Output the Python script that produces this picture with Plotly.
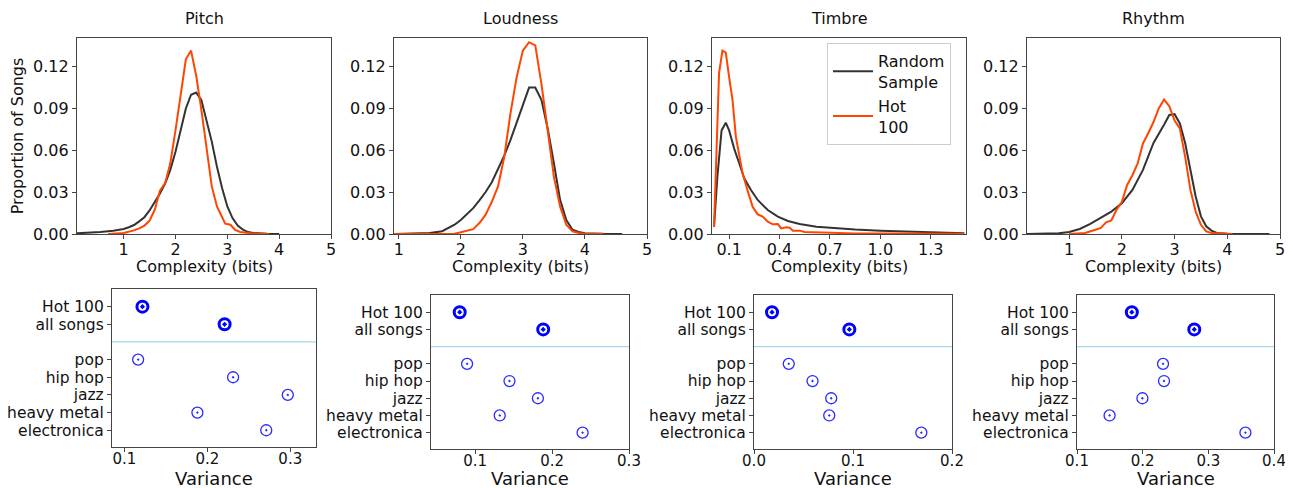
import plotly.graph_objects as go

# ---------------- data ----------------
TITLES = ["Pitch", "Loudness", "Timbre", "Rhythm"]
TOP_XLABEL = "Complexity (bits)"
BOT_XLABEL = "Variance"

PITCH_X_RAND = [0.1, 0.3, 0.55, 0.8, 1.0, 1.1, 1.2, 1.3, 1.4, 1.5, 1.6, 1.7, 1.8, 1.9, 2.0, 2.1, 2.2, 2.3, 2.4,
                2.5, 2.6, 2.7, 2.8, 2.9, 3.0, 3.1, 3.2, 3.3, 3.4, 3.5, 3.77, 4.0]
PITCH_RAND = [0.0005, 0.0008, 0.0014, 0.0024, 0.0036, 0.0048, 0.0064, 0.009, 0.012, 0.0168, 0.0225, 0.029,
              0.036, 0.0458, 0.0588, 0.0754, 0.0897, 0.0995, 0.101, 0.0956, 0.0813, 0.066, 0.048, 0.0327,
              0.0197, 0.0114, 0.006, 0.0031, 0.0014, 0.0007, 0.0002, 0.0]
PITCH_X_HOT = [0.7, 1.0, 1.2, 1.3, 1.4, 1.5, 1.6, 1.7, 1.8, 1.9, 2.0, 2.1, 2.2, 2.3, 2.4, 2.5, 2.6, 2.7, 2.8,
               2.9, 2.96, 3.06, 3.15, 3.25, 3.45, 3.8]
PITCH_HOT = [0.0, 0.0007, 0.0026, 0.004, 0.006, 0.0095, 0.0173, 0.031, 0.0363, 0.0505, 0.074, 0.099, 0.1248,
             0.131, 0.113, 0.0885, 0.0624, 0.034, 0.0197, 0.0126, 0.0074, 0.0066, 0.003, 0.0014, 0.0005, 0.0]

LOUD_X_RAND = [0.93, 1.2, 1.5, 1.7, 1.9, 2.0, 2.1, 2.2, 2.3, 2.4, 2.5, 2.6, 2.7, 2.8, 2.9, 3.0, 3.1, 3.2, 3.3,
               3.4, 3.5, 3.6, 3.7, 3.8, 3.9, 4.0, 4.3, 4.6]
LOUD_RAND = [0.0, 0.0002, 0.0007, 0.002, 0.0066, 0.010, 0.014, 0.0185, 0.024, 0.030, 0.037, 0.046, 0.056,
             0.067, 0.079, 0.092, 0.1046, 0.1046, 0.0956, 0.0754, 0.0505, 0.0244, 0.010, 0.003, 0.0014,
             0.0005, 0.0001, 0.0]
LOUD_X_HOT = [0.93, 1.5, 1.9, 2.0, 2.1, 2.2, 2.3, 2.4, 2.5, 2.6, 2.7, 2.8, 2.9, 3.0, 3.1, 3.2, 3.3, 3.4, 3.5,
              3.6, 3.7, 3.8, 3.9, 4.0, 4.3]
LOUD_HOT = [0.0, 0.0, 0.0002, 0.0012, 0.0026, 0.0035, 0.0078, 0.0138, 0.023, 0.034, 0.055, 0.086, 0.112,
            0.131, 0.137, 0.1347, 0.107, 0.073, 0.041, 0.0197, 0.0066, 0.0019, 0.0007, 0.0002, 0.0]

TIMB_X_RAND = [0.01, 0.03, 0.055, 0.08, 0.1, 0.13, 0.16, 0.19, 0.23, 0.27, 0.33, 0.39, 0.45, 0.52, 0.62,
               0.72, 0.85, 1.0, 1.15, 1.3, 1.5]
TIMB_RAND = [0.005, 0.041, 0.074, 0.0795, 0.074, 0.061, 0.0505, 0.0398, 0.0314, 0.0243, 0.0171, 0.0124,
             0.0093, 0.0071, 0.0052, 0.0041, 0.0032, 0.0024, 0.0018, 0.0012, 0.0006]
TIMB_X_HOT = [0.01, 0.04, 0.06, 0.08, 0.1, 0.12, 0.14, 0.16, 0.18, 0.21, 0.24, 0.27, 0.30, 0.33, 0.36, 0.39,
              0.41, 0.44, 0.46, 0.48, 0.52, 0.55, 0.58, 0.62, 0.68, 0.72, 0.78, 0.85, 1.0, 1.2, 1.5]
TIMB_HOT = [0.005, 0.115, 0.131, 0.1295, 0.112, 0.096, 0.0695, 0.0576, 0.0433, 0.031, 0.0195, 0.014, 0.0124,
            0.0088, 0.0069, 0.0071, 0.004, 0.0048, 0.0045, 0.0024, 0.0024, 0.0015, 0.0014, 0.0012, 0.0008,
            0.001, 0.0006, 0.0004, 0.0003, 0.0002, 0.0001]

RHY_X_RAND = [0.2, 0.5, 0.8, 1.0, 1.2, 1.4, 1.6, 1.8, 2.0, 2.2, 2.4, 2.6, 2.8, 2.9, 3.0, 3.1, 3.2, 3.3, 3.4,
              3.5, 3.6, 3.7, 3.8, 4.0, 4.4, 4.8]
RHY_RAND = [0.0, 0.0002, 0.0005, 0.0014, 0.0036, 0.0073, 0.0114, 0.016, 0.022, 0.0315, 0.0458, 0.065, 0.078,
            0.085, 0.0856, 0.079, 0.065, 0.0458, 0.0268, 0.0126, 0.0055, 0.0024, 0.0007, 0.0002, 0.0, 0.0]
RHY_X_HOT = [1.0, 1.3, 1.5, 1.6, 1.7, 1.8, 1.9, 2.0, 2.1, 2.2, 2.3, 2.4, 2.5, 2.6, 2.7, 2.8, 2.9, 3.0, 3.1,
             3.2, 3.3, 3.4, 3.5, 3.6, 3.7, 4.1]
RHY_HOT = [0.0, 0.0007, 0.003, 0.0043, 0.0083, 0.0097, 0.0173, 0.023, 0.035, 0.042, 0.0505, 0.0647, 0.072,
           0.080, 0.0897, 0.096, 0.0913, 0.081, 0.0754, 0.0553, 0.0315, 0.016, 0.0066, 0.0019, 0.0007, 0.0]

CATEGORIES = ["Hot 100", "all songs", "pop", "hip hop", "jazz", "heavy metal", "electronica"]
CAT_POS = [0, 1, 3, 4, 5, 6, 7]
VAR_PITCH = [0.1217, 0.2208, 0.1165, 0.231, 0.297, 0.188, 0.271]
VAR_LOUD = [0.080, 0.1885, 0.0896, 0.1447, 0.1816, 0.132, 0.2397]
VAR_TIMB = [0.0182, 0.0963, 0.0351, 0.0591, 0.078, 0.076, 0.169]
VAR_RHY = [0.1835, 0.2786, 0.231, 0.2325, 0.1996, 0.1496, 0.3565]

Y_TICKS = [0.0, 0.03, 0.06, 0.09, 0.12]

# ---------------- layout helpers ----------------
PAGE_W, PAGE_H = 1293, 488
OFF = 8  # default page body margin
W, H = PAGE_W - OFF, PAGE_H - OFF
FONT = "DejaVu Sans"
BLACK = "#333333"
ORANGE = "#ff4500"
FRAME = "#444444"
TXT = "#111111"


def xd(a, b):
    return [(a - OFF) / W, (b - OFF) / W]


def yd(top, bottom):
    return [1 - (bottom - OFF) / H, 1 - (top - OFF) / H]


def px(a):
    return (a - OFF) / W


def py(b):
    return 1 - (b - OFF) / H


top_x = [(77, 331), (394, 647), (712, 966), (1027, 1280)]
top_y = (38, 234)
bot_x = [(112, 316), (431, 629), (754, 952), (1077, 1274)]
bot_y = [(289, 447), (295, 449), (295, 449), (295, 449)]

top_xranges = [[0.1, 5.0], [0.924, 5.0], [-0.002, 1.51], [0.2, 5.0]]
top_xticks = [[1, 2, 3, 4, 5], [1, 2, 3, 4, 5], [0.1, 0.4, 0.7, 1.0, 1.3], [1, 2, 3, 4, 5]]
top_xtext = [["1", "2", "3", "4", "5"]] * 2 + [["0.1", "0.4", "0.7", "1.0", "1.3"]] + [["1", "2", "3", "4", "5"]]
bot_xranges = [[0.085, 0.331], [0.0427, 0.3], [0.0, 0.2], [0.1, 0.4]]
bot_xticks = [[0.1, 0.2, 0.3], [0.1, 0.2, 0.3], [0.0, 0.1, 0.2], [0.1, 0.2, 0.3, 0.4]]

curves = [
    (PITCH_X_RAND, PITCH_RAND, PITCH_X_HOT, PITCH_HOT),
    (LOUD_X_RAND, LOUD_RAND, LOUD_X_HOT, LOUD_HOT),
    (TIMB_X_RAND, TIMB_RAND, TIMB_X_HOT, TIMB_HOT),
    (RHY_X_RAND, RHY_RAND, RHY_X_HOT, RHY_HOT),
]
variances = [VAR_PITCH, VAR_LOUD, VAR_TIMB, VAR_RHY]

fig = go.Figure()
layout = {}
shapes = []
annotations = []

tick_font = dict(family=FONT, size=16, color=TXT)


def ann(text, x, y, size):
    return dict(text=text, xref="paper", yref="paper", x=x, y=y,
                xanchor="center", yanchor="middle", showarrow=False,
                font=dict(family=FONT, size=size, color=TXT))


for i in range(4):
    n = i + 1
    xa = "x" if n == 1 else f"x{n}"
    ya = "y" if n == 1 else f"y{n}"
    xr, yr, xh, yh = curves[i]
    fig.add_trace(go.Scatter(x=xr, y=yr, mode="lines", line=dict(color=BLACK, width=2),
                             name="Random<br>Sample", legendgroup="rand", showlegend=(i == 0),
                             xaxis=xa, yaxis=ya))
    fig.add_trace(go.Scatter(x=xh, y=yh, mode="lines", line=dict(color=ORANGE, width=2),
                             name="Hot<br>100", legendgroup="hot", showlegend=(i == 0),
                             xaxis=xa, yaxis=ya))
    layout["xaxis" if n == 1 else f"xaxis{n}"] = dict(
        domain=xd(*top_x[i]), anchor=ya, range=top_xranges[i], automargin=False,
        tickvals=top_xticks[i], ticktext=top_xtext[i], ticklabelstandoff=-3,
        showline=True, mirror=True, linecolor=FRAME, linewidth=1.3,
        ticks="outside", ticklen=4, tickcolor=FRAME, showgrid=False, zeroline=False,
        tickfont=tick_font,
    )
    layout["yaxis" if n == 1 else f"yaxis{n}"] = dict(
        domain=yd(*top_y), anchor=xa, range=[0, 0.14], automargin=False,
        tickvals=Y_TICKS, ticktext=[f"{v:.2f}" for v in Y_TICKS],
        showline=True, mirror=True, linecolor=FRAME, linewidth=1.3,
        ticks="outside", ticklen=4, tickcolor=FRAME, showgrid=False, zeroline=False,
        tickfont=tick_font,
        title=dict(text="Proportion of Songs" if i == 0 else "",
                   font=dict(family=FONT, size=16, color=TXT), standoff=6),
    )
    cx = px((top_x[i][0] + top_x[i][1]) / 2)
    annotations.append(ann(TITLES[i], cx, py(18), 16))
    annotations.append(ann(TOP_XLABEL, cx, py(266), 16))

    # bottom row
    m = i + 5
    xb = f"x{m}"
    yb = f"y{m}"
    v = variances[i]
    fig.add_trace(go.Scatter(x=v[:2], y=CAT_POS[:2], mode="markers", showlegend=False,
                             marker=dict(symbol="circle-open-dot", size=11, color="#0000ff",
                                         line=dict(width=3, color="#0000ff")),
                             xaxis=xb, yaxis=yb))
    fig.add_trace(go.Scatter(x=v[2:], y=CAT_POS[2:], mode="markers", showlegend=False,
                             marker=dict(symbol="circle-open-dot", size=11, color="#2a2aff",
                                         line=dict(width=1.3, color="#2a2aff")),
                             xaxis=xb, yaxis=yb))
    layout[f"xaxis{m}"] = dict(
        domain=xd(*bot_x[i]), anchor=yb, range=bot_xranges[i], automargin=False,
        tickvals=bot_xticks[i], ticktext=[f"{t:.1f}" for t in bot_xticks[i]], ticklabelstandoff=-6,
        showline=True, mirror=True, linecolor=FRAME, linewidth=1.3,
        ticks="outside", ticklen=4, tickcolor=FRAME, showgrid=False, zeroline=False,
        tickfont=dict(family=FONT, size=15, color=TXT),
    )
    layout[f"yaxis{m}"] = dict(
        domain=yd(*bot_y[i]), anchor=xb, range=[7.95, -1.0], automargin=False,
        tickvals=CAT_POS, ticktext=CATEGORIES,
        showline=True, mirror=True, linecolor=FRAME, linewidth=1.3,
        ticks="outside", ticklen=4, tickcolor=FRAME, showgrid=False, zeroline=False,
        tickfont=dict(family=FONT, size=15.5, color=TXT),
    )
    annotations.append(ann(BOT_XLABEL, px((bot_x[i][0] + bot_x[i][1]) / 2), py(478), 18))
    shapes.append(dict(type="line", xref=f"{xb} domain", yref=yb, x0=0, x1=1, y0=2, y1=2,
                       line=dict(color="#a6d8ea", width=1.2)))

fig.update_layout(
    width=W, height=H,
    margin=dict(l=0, r=0, t=0, b=0),
    paper_bgcolor="white", plot_bgcolor="white",
    font=dict(family=FONT, size=16, color=TXT),
    shapes=shapes, annotations=annotations,
    legend=dict(x=px(827), y=py(43), xanchor="left", yanchor="top",
                bgcolor="rgba(255,255,255,0.8)", bordercolor="#cccccc", borderwidth=1,
                font=dict(family=FONT, size=16, color=TXT),
                itemwidth=40, tracegroupgap=0),
    **layout,
)

fig.write_html("out.html")
